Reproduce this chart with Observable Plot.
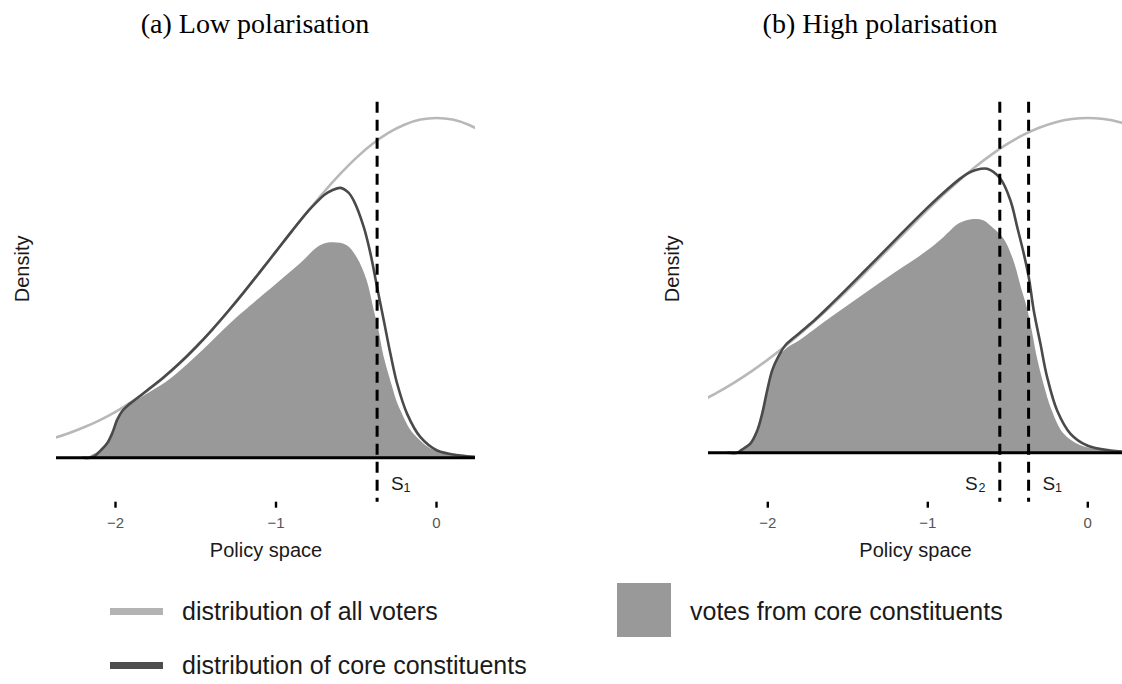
<!DOCTYPE html>
<html><head><meta charset="utf-8">
<script src="https://cdn.jsdelivr.net/npm/d3@7"></script>
<script src="https://cdn.jsdelivr.net/npm/@observablehq/plot@0.6"></script>
<style>
html,body{margin:0;padding:0;background:#fff;}
#root{position:relative;width:1122px;height:684px;overflow:hidden;font-family:"Liberation Sans",Arial,sans-serif;background:#fff;}
.title{position:absolute;top:8px;font-family:"Liberation Serif","Times New Roman",serif;font-size:28px;color:#000;transform:translateX(-50%);white-space:nowrap;line-height:32px;}
.panel{position:absolute;top:0;}
.leg{position:absolute;font-size:25px;color:#1a1a1a;line-height:30px;white-space:nowrap;}
.sw{position:absolute;height:7px;}
</style></head><body>
<div id="root">
  <div class="title" style="left:255px">(a) Low polarisation</div>
  <div class="title" style="left:880px">(b) High polarisation</div>
  <div id="left" class="panel" style="left:0px"></div>
  <div id="right" class="panel" style="left:561px"></div>
  <div class="sw" style="left:110px;top:608px;width:53px;background:#b3b3b3"></div>
  <div class="leg" style="left:182px;top:596px">distribution of all voters</div>
  <div class="sw" style="left:110px;top:662px;width:53px;background:#4d4d4d"></div>
  <div class="leg" style="left:182px;top:650px">distribution of core constituents</div>
  <div style="position:absolute;left:617px;top:583px;width:54px;height:54px;background:#999"></div>
  <div class="leg" style="left:690px;top:596px">votes from core constituents</div>
</div>
<script>
// ---- data ----
const policyTicks = [-2, -1, 0];

// distribution of all voters (both panels share the x grid)
const allX = [-2.4,-2.3,-2.2,-2.1,-2.0,-1.9,-1.8,-1.7,-1.6,-1.5,-1.4,-1.3,-1.2,-1.1,-1.0,-0.9,-0.8,-0.7,-0.6,-0.5,-0.4,-0.3,-0.2,-0.1,0,0.1,0.2,0.3];
const allLow = [0.0224,0.0283,0.0355,0.0440,0.0540,0.0656,0.0790,0.0940,0.1109,0.1295,0.1497,0.1714,0.1942,0.2179,0.2420,0.2661,0.2897,0.3123,0.3332,0.3521,0.3683,0.3814,0.3910,0.3970,0.3989,0.3970,0.3910,0.3814];
const allHigh = [0.0622,0.0723,0.0835,0.0958,0.1093,0.1238,0.1394,0.1559,0.1732,0.1913,0.2099,0.2288,0.2479,0.2668,0.2854,0.3033,0.3202,0.3360,0.3502,0.3628,0.3734,0.3818,0.3880,0.3917,0.3930,0.3917,0.3880,0.3818];

// distribution of core constituents – low polarisation
const coreLowX = [-2.2,-2.16,-2.13,-2.093,-2.052,-2.02,-1.99,-1.958,-1.917,-1.896,-1.8,-1.7,-1.6,-1.5,-1.4,-1.3,-1.2,-1.1,-1.0,-0.9,-0.8,-0.75,-0.7,-0.65,-0.598,-0.55,-0.515,-0.453,-0.411,-0.37,-0.328,-0.287,-0.245,-0.183,-0.1,0.004,0.15,0.3];
const coreLowY = [0,0,0.002,0.0085,0.017,0.029,0.0445,0.055,0.0625,0.0655,0.0795,0.0945,0.1112,0.1298,0.15,0.1717,0.1945,0.2182,0.2423,0.2664,0.2895,0.2995,0.3085,0.3140,0.3168,0.3115,0.3016,0.2707,0.2394,0.2002,0.1608,0.1221,0.0869,0.0516,0.0242,0.0086,0.0027,0.0005];

// votes from core constituents – low polarisation
const votesLowX = [-2.2,-2.16,-2.156,-2.093,-2.052,-2.02,-1.99,-1.958,-1.917,-1.88,-1.782,-1.678,-1.512,-1.263,-1.0,-0.847,-0.723,-0.64,-0.556,-0.494,-0.432,-0.39,-0.359,-0.328,-0.287,-0.245,-0.224,-0.162,-0.1,-0.04,0.045,0.12,0.2,0.3];
const votesLowY = [0,0,0.0015,0.0082,0.0164,0.028,0.0434,0.0535,0.061,0.066,0.077,0.0892,0.116,0.161,0.203,0.2277,0.249,0.2524,0.249,0.2347,0.2077,0.1745,0.150,0.1195,0.0915,0.0655,0.056,0.033,0.020,0.011,0.006,0.0027,0.001,0];

// distribution of core constituents – high polarisation
const coreHighX = [-2.25,-2.19,-2.17,-2.108,-2.066,-2.035,-2.004,-1.972,-1.931,-1.889,-1.8,-1.7,-1.6,-1.5,-1.4,-1.3,-1.2,-1.1,-1.0,-0.9,-0.8,-0.75,-0.7,-0.629,-0.546,-0.483,-0.441,-0.4,-0.369,-0.3375,-0.296,-0.254,-0.191,-0.108,-0.004,0.142,0.3];
const coreHighY = [0,0,0.0027,0.011,0.026,0.046,0.073,0.097,0.114,0.1265,0.141,0.157,0.175,0.1935,0.2125,0.2315,0.2505,0.2695,0.288,0.3055,0.3215,0.328,0.332,0.3333,0.3216,0.2958,0.2648,0.2336,0.2061,0.1667,0.1279,0.0887,0.0493,0.0223,0.0086,0.0027,0.0005];

// votes from core constituents – high polarisation
const votesHighX = [-2.25,-2.18,-2.17,-2.108,-2.066,-2.035,-2.004,-1.972,-1.931,-1.879,-1.8,-1.6,-1.4,-1.2,-1.0,-0.9,-0.8,-0.7125,-0.65,-0.608,-0.525,-0.4625,-0.41,-0.379,-0.3475,-0.316,-0.275,-0.2225,-0.15,-0.046,0.1,0.2,0.3];
const votesHighY = [0,0,0.0027,0.0106,0.0258,0.0458,0.0728,0.0962,0.1122,0.1225,0.1315,0.159,0.1855,0.2115,0.237,0.2525,0.269,0.2738,0.2723,0.2664,0.2512,0.2254,0.1901,0.1709,0.1432,0.1122,0.081,0.0493,0.0223,0.0086,0.0027,0.001,0];

// cut points S1, S2
const cutsLow = [{v: -0.37, name: "S", sub: "1", side: "right"}];
const cutsHigh = [{v: -0.55, name: "S", sub: "2", side: "left"}, {v: -0.37, name: "S", sub: "1", side: "right"}];

// ---- drawing ----
const zip = (xs, ys) => xs.map((x, i) => ({x, y: ys[i]}));
const fmt = d => d < 0 ? "\u2212" + Math.abs(d) : String(d);

function panel({all, coreX, coreY, votesX, votesY, cuts, xDomain, yDomain, marginLeft, marginRight, densityDx}) {
  const lineCurve = "catmull-rom";
  return Plot.plot({
    width: 561,
    height: 580,
    marginLeft, marginRight,
    marginTop: 101.7,
    marginBottom: 78.3,
    style: {fontFamily: "'Liberation Sans', Arial, sans-serif", background: "transparent", overflow: "visible"},
    x: {domain: xDomain},
    y: {domain: yDomain, axis: null},
    marks: [
      Plot.areaY(zip(votesX, votesY), {x: "x", y: "y", fill: "#999999", curve: lineCurve, clip: true}),
      Plot.line(zip(allX, all), {x: "x", y: "y", stroke: "#b8b8b8", strokeWidth: 2.6, curve: lineCurve, clip: true}),
      Plot.line(zip(coreX, coreY), {x: "x", y: "y", stroke: "#4a4a4a", strokeWidth: 2.6, curve: lineCurve, clip: true}),
      Plot.ruleY([0], {stroke: "#000", strokeWidth: 3}),
      Plot.ruleX(cuts, {x: "v", stroke: "#000", strokeWidth: 3, strokeDasharray: "11,7"}),
      Plot.axisX({ticks: policyTicks, tickSize: 6, strokeWidth: 2.4, stroke: "#000", tickFormat: () => "", label: null}),
      Plot.axisX({ticks: policyTicks, tickSize: 0, tickPadding: 15, fontSize: 15, color: "#555", tickFormat: fmt, label: null}),
      Plot.text(["Policy space"], {text: d => d, frameAnchor: "bottom", dy: 48.5, fontSize: 20, fill: "#1a1a1a", lineAnchor: "middle"}),
      Plot.text(["Density"], {text: d => d, frameAnchor: "left", dx: densityDx, rotate: -90, fontSize: 20, fill: "#1a1a1a", lineAnchor: "middle"}),
      Plot.text(cuts.filter(d => d.side === "right"), {x: "v", text: "name", frameAnchor: "bottom", dx: 14, dy: -18.4, textAnchor: "start", fontSize: 19, fill: "#1a1a1a", lineAnchor: "middle"}),
      Plot.text(cuts.filter(d => d.side === "right"), {x: "v", text: "sub", frameAnchor: "bottom", dx: 26.5, dy: -14, textAnchor: "start", fontSize: 12.5, fill: "#1a1a1a", lineAnchor: "middle"}),
      Plot.text(cuts.filter(d => d.side === "left"), {x: "v", text: "name", frameAnchor: "bottom", dx: -22, dy: -18.4, textAnchor: "end", fontSize: 19, fill: "#1a1a1a", lineAnchor: "middle"}),
      Plot.text(cuts.filter(d => d.side === "left"), {x: "v", text: "sub", frameAnchor: "bottom", dx: -14.3, dy: -14, textAnchor: "end", fontSize: 12.5, fill: "#1a1a1a", lineAnchor: "middle"})
    ]
  });
}

document.getElementById("left").append(panel({
  all: allLow, coreX: coreLowX, coreY: coreLowY, votesX: votesLowX, votesY: votesLowY, cuts: cutsLow,
  xDomain: [-2.3676, 0.2430], yDomain: [-0.0521, 0.4174], marginLeft: 56, marginRight: 86, densityDx: -34
}));
document.getElementById("right").append(panel({
  all: allHigh, coreX: coreHighX, coreY: coreHighY, votesX: votesHighX, votesY: votesHighY, cuts: cutsHigh,
  xDomain: [-2.3706, 0.2169], yDomain: [-0.058, 0.4115], marginLeft: 147, marginRight: 0, densityDx: -35.5
}));
</script>
</body></html>
